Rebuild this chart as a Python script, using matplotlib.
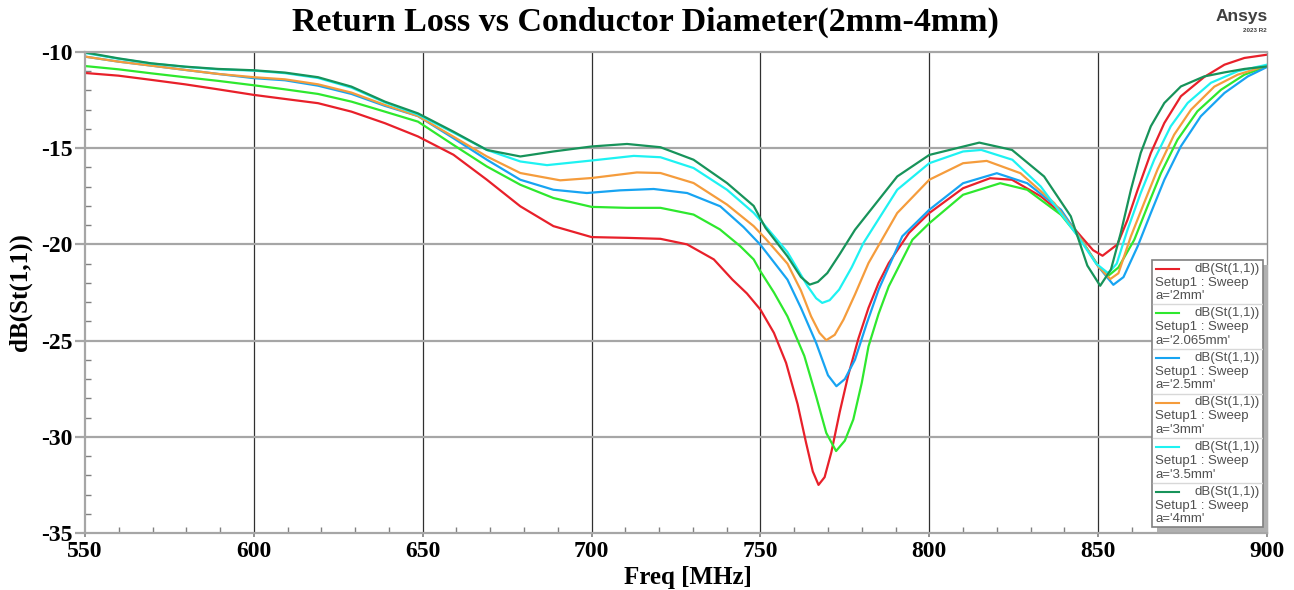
import matplotlib
matplotlib.use("Agg")
import matplotlib.pyplot as plt
from matplotlib.ticker import MultipleLocator
from matplotlib.patches import Rectangle

plt.rcParams["axes.unicode_minus"] = False

# values: frequency (MHz) and dB(St(1,1))
f_2mm = [550, 559.9, 569.7, 579.6, 589.4, 600, 609.2, 619, 628.9, 638.8, 648.6, 659.1, 669, 678.9,
         688.7, 700, 710.5, 720.4, 728.3, 736.2, 741.7, 746, 750, 754, 757.6, 761, 763.5, 765.5,
         767.2, 769, 771, 773.5, 776, 779, 782, 785, 788, 794, 800, 810, 818, 824.5, 833, 839, 845,
         848.5, 851.3, 855.7, 858.7, 861.7, 865.6, 869.6, 874.5, 881.4, 887.4, 893.3, 900]
db_2mm = [-11.09, -11.23, -11.45, -11.68, -11.94, -12.23, -12.44, -12.66, -13.1, -13.7, -14.39,
          -15.34, -16.64, -18.02, -19.05, -19.62, -19.66, -19.71, -20.0, -20.78, -21.83, -22.55,
          -23.39, -24.6, -26.16, -28.3, -30.3, -31.8, -32.5, -32.1, -30.8, -28.7, -26.8, -24.9,
          -23.3, -22.0, -20.97, -19.4, -18.37, -17.08, -16.56, -16.64, -17.5, -18.37, -19.6, -20.3,
          -20.59, -20.0, -18.72, -17.16, -15.25, -13.69, -12.3, -11.3, -10.66, -10.31, -10.14]

f_2065mm = [550, 559.9, 569.7, 579.6, 589.4, 600, 609.2, 619, 628.9, 638.8, 648.6, 659.1, 669,
            678.9, 688.7, 700, 710.5, 720.4, 730.2, 738, 744, 748, 750, 754, 758, 763, 766.5, 769.5,
            772.4, 775, 777.5, 780, 782, 785, 788, 795, 800, 810, 821, 829, 839, 845, 850, 852.8,
            856, 860.7, 864.6, 868.6, 873.5, 879.4, 886.4, 893.3, 900]
db_2065mm = [-10.73, -10.9, -11.11, -11.31, -11.5, -11.73, -11.94, -12.18, -12.58, -13.1, -13.62,
             -14.83, -15.95, -16.9, -17.59, -18.05, -18.1, -18.1, -18.45, -19.22, -20.09, -20.78,
             -21.4, -22.5, -23.74, -25.8, -27.9, -29.8, -30.74, -30.2, -29.1, -27.2, -25.3, -23.6,
             -22.18, -19.76, -18.9, -17.42, -16.82, -17.16, -18.46, -19.76, -21.1, -21.66, -21.2,
             -19.76, -18.03, -16.3, -14.56, -13.08, -11.96, -11.18, -10.75]

f_25mm = [550, 559.9, 569.7, 579.6, 589.4, 600, 609.2, 619, 628.9, 638.8, 648.6, 659.1, 669, 678.9,
          688.7, 698.6, 708.5, 718.4, 728.3, 738.1, 745, 750, 758, 762, 766.5, 770, 772.5, 775, 778,
          781.5, 785, 792, 800, 810, 820, 829, 839, 845, 850, 854.5, 857.5, 861.7, 865.6, 869.6,
          874.5, 880.4, 887.4, 894.3, 900]
db_25mm = [-10.24, -10.5, -10.71, -10.93, -11.14, -11.36, -11.47, -11.75, -12.18, -12.8, -13.33,
           -14.48, -15.6, -16.64, -17.16, -17.33, -17.19, -17.12, -17.33, -18.02, -19.1, -20.02,
           -21.83, -23.3, -25.12, -26.8, -27.37, -27.0, -25.99, -24.1, -22.35, -19.58, -18.2,
           -16.82, -16.3, -16.82, -18.2, -19.76, -21.14, -22.1, -21.7, -20.1, -18.37, -16.64,
           -14.9, -13.34, -12.13, -11.27, -10.78]

f_3mm = [550, 559.9, 569.7, 579.6, 589.4, 600, 609.2, 619, 628.9, 638.8, 648.6, 659.1, 669, 678.9,
         690.7, 700, 713.4, 720.4, 730.2, 740.1, 748, 751.5, 758, 762, 765, 767.5, 769.5, 772,
         774.6, 778, 782, 790.5, 800, 810, 817, 827, 837, 845, 850, 853.6, 856, 859.7, 863.6,
         867.6, 872.5, 877.5, 884.4, 891.3, 900]
db_3mm = [-10.24, -10.5, -10.71, -10.93, -11.14, -11.31, -11.42, -11.68, -12.11, -12.75, -13.33,
          -14.4, -15.43, -16.29, -16.67, -16.55, -16.26, -16.29, -16.81, -17.93, -19.05, -19.7,
          -21.0, -22.4, -23.74, -24.6, -24.98, -24.7, -23.91, -22.6, -20.97, -18.37, -16.64,
          -15.78, -15.66, -16.3, -17.85, -19.76, -21.14, -21.8, -21.5, -19.58, -17.85, -16.1,
          -14.3, -13.0, -11.8, -11.18, -10.7]

f_35mm = [550, 559.9, 569.7, 579.6, 589.4, 600, 609.2, 619, 628.9, 638.8, 648.6, 659.1, 669, 678.9,
          686.8, 700, 712.5, 720.4, 730.2, 740.1, 748, 751.5, 758, 764, 766.5, 768.3, 770.5, 773.3,
          777, 780.5, 790.5, 800, 810, 815.4, 824.6, 833, 844, 849.4, 853, 855.5, 858.7, 862.6,
          866.6, 871.5, 876.5, 883.4, 891.3, 900]
db_35mm = [-10.05, -10.35, -10.6, -10.77, -10.9, -10.97, -11.1, -11.35, -11.85, -12.62, -13.25,
           -14.19, -15.09, -15.69, -15.88, -15.64, -15.4, -15.47, -16.03, -17.16, -18.36, -19.05,
           -20.4, -22.18, -22.8, -23.04, -22.9, -22.35, -21.2, -19.93, -17.16, -15.78, -15.17,
           -15.09, -15.6, -16.99, -19.58, -21.0, -21.5, -21.0, -19.24, -17.33, -15.6, -13.86,
           -12.65, -11.6, -11.0, -10.66]

f_4mm = [550, 559.9, 569.7, 579.6, 589.4, 600, 609.2, 619, 628.9, 638.8, 648.6, 659.1, 669, 678.9,
         688.7, 700, 710.5, 720.4, 730.2, 740.1, 748, 751.5, 758, 762, 764.6, 767, 769.8, 773.5,
         778, 790.5, 800, 814.8, 824.5, 834, 841.9, 846.8, 850.6, 853.8, 856.7, 859.7, 862.6,
         865.6, 869.6, 874.5, 881.4, 887.4, 893.3, 900]
db_4mm = [-10.02, -10.33, -10.59, -10.76, -10.88, -10.95, -11.07, -11.31, -11.8, -12.58, -13.19,
          -14.14, -15.09, -15.43, -15.17, -14.91, -14.78, -14.95, -15.6, -16.81, -18.0, -19.14,
          -20.62, -21.7, -22.09, -21.95, -21.49, -20.5, -19.24, -16.47, -15.35, -14.71, -15.09,
          -16.47, -18.54, -21.1, -22.15, -21.3, -19.4, -17.16, -15.25, -13.86, -12.65, -11.79,
          -11.27, -11.06, -10.88, -10.75]

labels = ["a='2mm'", "a='2.065mm'", "a='2.5mm'", "a='3mm'", "a='3.5mm'", "a='4mm'"]
colors = ["#e8202a", "#2ee82e", "#17a4f2", "#f59c3c", "#1ef2f2", "#17935a"]
freqs = [f_2mm, f_2065mm, f_25mm, f_3mm, f_35mm, f_4mm]
dbs = [db_2mm, db_2065mm, db_25mm, db_3mm, db_35mm, db_4mm]

serif = ["Liberation Serif", "DejaVu Serif"]
sans = ["Liberation Sans", "DejaVu Sans"]

fig = plt.figure(figsize=(12.94, 5.9), dpi=100)
ax = fig.add_axes([85 / 1294, 57 / 590, 1182 / 1294, 481 / 590])

for f, d, c in zip(freqs, dbs, colors):
    ax.plot(f, d, color=c, lw=1.6, solid_joinstyle="round")

ax.set_xlim(550, 900)
ax.set_ylim(-35, -10)
ax.xaxis.set_major_locator(MultipleLocator(50))
ax.xaxis.set_minor_locator(MultipleLocator(10))
ax.yaxis.set_major_locator(MultipleLocator(5))
ax.yaxis.set_minor_locator(MultipleLocator(1))

for x in range(600, 900, 50):
    ax.axvline(x, color="#303030", lw=0.9, zorder=0)
for y in range(-30, -10, 5):
    ax.axhline(y, color="#a6a6a6", lw=1.6, zorder=0)

for s in ["left", "top", "bottom"]:
    ax.spines[s].set_color("#a6a6a6")
    ax.spines[s].set_linewidth(1.6)
ax.spines["right"].set_color("#909090")
ax.spines["right"].set_linewidth(1.0)

ax.tick_params(axis="y", which="major", direction="out", length=7, width=1.6, color="#a6a6a6", pad=2)
ax.tick_params(axis="y", which="minor", direction="in", length=4, width=1.0, color="#808080")
ax.tick_params(axis="x", which="major", direction="out", length=3, width=1.2, color="#808080", pad=3)
ax.tick_params(axis="x", which="minor", direction="in", length=4, width=1.0, color="#808080")

for lbl in ax.get_xticklabels() + ax.get_yticklabels():
    lbl.set_family(serif)
    lbl.set_fontweight("bold")
    lbl.set_fontsize(17)

ax.set_xlabel("Freq [MHz]", family=serif, fontweight="bold", fontsize=18)
ax.xaxis.set_label_coords(0.51, -0.068)
ax.set_ylabel("dB(St(1,1))", family=serif, fontweight="bold", fontsize=18)
ax.yaxis.set_label_coords(-0.045, 0.5)

fig.text(645 / 1294, 1 - 22 / 590, "Return Loss vs Conductor Diameter(2mm-4mm)", family=serif,
         fontweight="bold", fontsize=24.5, ha="center", va="center")
fig.text(1268 / 1294, 1 - 16 / 590, "Ansys", family=sans, fontweight="bold", fontsize=12.5,
         color="#404040", ha="right", va="center")
fig.text(1267 / 1294, 1 - 30 / 590, "2023 R2", family=sans, fontweight="bold", fontsize=4.5,
         color="#404040", ha="right", va="center")

# legend box drawn in pixel units
lx0, ly0, lw_, lh = 1152, 260, 111, 267
lg = fig.add_axes([lx0 / 1294, (590 - ly0 - lh) / 590, lw_ / 1294, lh / 590])
lg.set_xlim(0, lw_)
lg.set_ylim(lh, 0)
lg.axis("off")
lg.add_patch(Rectangle((5, 5), lw_, lh, facecolor="#b0b0b0", edgecolor="none", clip_on=False, zorder=0))
lg.add_patch(Rectangle((0, 0), lw_, lh, facecolor="white", edgecolor="#808080", lw=1.2,
                       clip_on=False, zorder=1))
eh = lh / len(labels)
for i, (c, lab) in enumerate(zip(colors, labels)):
    y0 = i * eh
    if i > 0:
        lg.plot([1, lw_ - 1], [y0, y0], color="#d8d8d8", lw=1.0, zorder=2)
    lg.plot([4, 27], [y0 + 9, y0 + 9], color=c, lw=1.5, zorder=2)
    lg.text(lw_ - 3, y0 + 9, "dB(St(1,1))", family=sans, fontsize=9.5, color="#505050",
            ha="right", va="center", zorder=3)
    lg.text(3, y0 + 23, "Setup1 : Sweep", family=sans, fontsize=9.5, color="#505050",
            ha="left", va="center", zorder=3)
    lg.text(3, y0 + 36.5, lab, family=sans, fontsize=9.5, color="#505050",
            ha="left", va="center", zorder=3)

fig.savefig("out.png", dpi=100, facecolor="white")
